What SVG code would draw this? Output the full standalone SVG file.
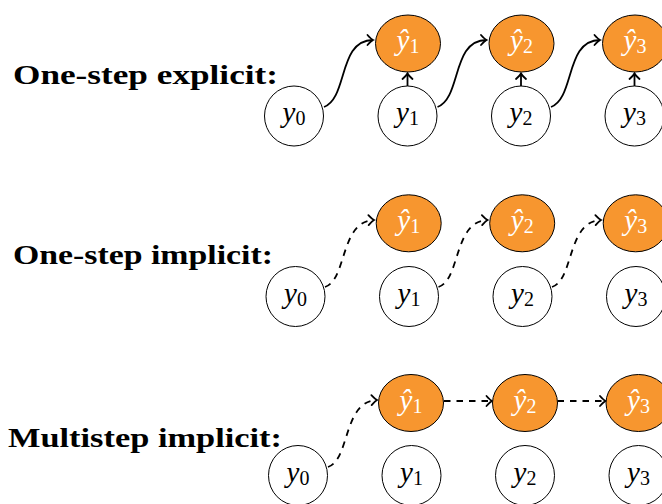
<svg xmlns="http://www.w3.org/2000/svg" width="662" height="504" viewBox="0 0 662 504">
<defs>
<style>
.lbl{font-family:"Liberation Serif","DejaVu Serif",serif;font-weight:bold;font-size:28px;fill:#000}
.y{fill:#fff;stroke:#000;stroke-width:1}
.yh{fill:#F7962F;stroke:#000;stroke-width:1}
.t{font-family:"Liberation Serif","DejaVu Serif",serif;font-size:29px;font-style:italic;text-anchor:middle;fill:#000}
.th{fill:#fff}
.sub{font-style:normal;font-size:20px;baseline-shift:-3px}
.c{fill:none;stroke:#000;stroke-width:1.8}
.d{stroke-dasharray:6.5 6}
</style>
<marker id="ah" viewBox="-7 -7 11 14" markerWidth="11" markerHeight="14" refX="0" refY="0" orient="auto" markerUnits="userSpaceOnUse">
<path d="M-5.5,-5 Q-2,-1 0,0 Q-2,1 -5.5,5" fill="none" stroke="#000" stroke-width="1.8" stroke-linecap="round"/>
</marker>
</defs>
<rect width="662" height="504" fill="#fff"/>
<text class="lbl" x="13" y="84" textLength="265" lengthAdjust="spacingAndGlyphs">One-step explicit:</text>
<text class="lbl" x="13" y="264" textLength="260" lengthAdjust="spacingAndGlyphs">One-step implicit:</text>
<text class="lbl" x="8" y="447" textLength="274" lengthAdjust="spacingAndGlyphs">Multistep implicit:</text>

<g id="connectors">
<path class="c" marker-end="url(#ah)" d="M324,107 C348,98 338,40 373,40"/>
<path class="c" marker-end="url(#ah)" d="M437.5,107 C461.5,98 451.5,40 486.5,40"/>
<path class="c" marker-end="url(#ah)" d="M551,107 C575,98 565,40 600,40"/>
<path class="c" marker-end="url(#ah)" d="M407.5,86 L407.5,73.5"/>
<path class="c" marker-end="url(#ah)" d="M521,86 L521,73.5"/>
<path class="c" marker-end="url(#ah)" d="M634.5,86 L634.5,73.5"/>
<path class="c d" marker-end="url(#ah)" d="M325,287 C347,280 340,221 374,220"/>
<path class="c d" marker-end="url(#ah)" d="M438.5,287 C460.5,280 453.5,221 487.5,220"/>
<path class="c d" marker-end="url(#ah)" d="M552,287 C574,280 567,221 601,220"/>
<path class="c d" marker-end="url(#ah)" d="M328,467 C350,460 343,401 377,400"/>
<path class="c d" marker-end="url(#ah)" d="M444,401 L492,401"/>
<path class="c d" marker-end="url(#ah)" d="M557.5,401 L605.5,401"/>
</g>

<g id="r1-y0"><ellipse class="y" cx="294" cy="116" rx="29.5" ry="30"/><text class="t" x="294" y="122">y<tspan class="sub">0</tspan></text></g>
<g id="r1-y1"><ellipse class="y" cx="407.5" cy="116" rx="29.5" ry="30"/><text class="t" x="407.5" y="122">y<tspan class="sub">1</tspan></text></g>
<g id="r1-y2"><ellipse class="y" cx="521" cy="116" rx="29.5" ry="30"/><text class="t" x="521" y="122">y<tspan class="sub">2</tspan></text></g>
<g id="r1-y3"><ellipse class="y" cx="634.5" cy="116" rx="29.5" ry="30"/><text class="t" x="634.5" y="122">y<tspan class="sub">3</tspan></text></g>
<g id="r1-yh1"><ellipse class="yh" cx="408" cy="43.5" rx="32.5" ry="28.5"/><text class="t th" x="408" y="50">ŷ<tspan class="sub">1</tspan></text></g>
<g id="r1-yh2"><ellipse class="yh" cx="521.5" cy="43.5" rx="32.5" ry="28.5"/><text class="t th" x="521.5" y="50">ŷ<tspan class="sub">2</tspan></text></g>
<g id="r1-yh3"><ellipse class="yh" cx="635" cy="43.5" rx="32.5" ry="28.5"/><text class="t th" x="635" y="50">ŷ<tspan class="sub">3</tspan></text></g>

<g id="r2-y0"><ellipse class="y" cx="295.5" cy="296.5" rx="29.5" ry="30"/><text class="t" x="295.5" y="302.5">y<tspan class="sub">0</tspan></text></g>
<g id="r2-y1"><ellipse class="y" cx="409" cy="296.5" rx="29.5" ry="30"/><text class="t" x="409" y="302.5">y<tspan class="sub">1</tspan></text></g>
<g id="r2-y2"><ellipse class="y" cx="522.5" cy="296.5" rx="29.5" ry="30"/><text class="t" x="522.5" y="302.5">y<tspan class="sub">2</tspan></text></g>
<g id="r2-y3"><ellipse class="y" cx="636" cy="296.5" rx="29.5" ry="30"/><text class="t" x="636" y="302.5">y<tspan class="sub">3</tspan></text></g>
<g id="r2-yh1"><ellipse class="yh" cx="408.7" cy="223.3" rx="32.5" ry="28.5"/><text class="t th" x="408.7" y="229.8">ŷ<tspan class="sub">1</tspan></text></g>
<g id="r2-yh2"><ellipse class="yh" cx="522.2" cy="223.3" rx="32.5" ry="28.5"/><text class="t th" x="522.2" y="229.8">ŷ<tspan class="sub">2</tspan></text></g>
<g id="r2-yh3"><ellipse class="yh" cx="635.7" cy="223.3" rx="32.5" ry="28.5"/><text class="t th" x="635.7" y="229.8">ŷ<tspan class="sub">3</tspan></text></g>

<g id="r3-y0"><ellipse class="y" cx="298" cy="475.5" rx="29.5" ry="30"/><text class="t" x="298" y="481.5">y<tspan class="sub">0</tspan></text></g>
<g id="r3-y1"><ellipse class="y" cx="411.5" cy="475.5" rx="29.5" ry="30"/><text class="t" x="411.5" y="481.5">y<tspan class="sub">1</tspan></text></g>
<g id="r3-y2"><ellipse class="y" cx="525" cy="475.5" rx="29.5" ry="30"/><text class="t" x="525" y="481.5">y<tspan class="sub">2</tspan></text></g>
<g id="r3-y3"><ellipse class="y" cx="638.5" cy="475.5" rx="29.5" ry="30"/><text class="t" x="638.5" y="481.5">y<tspan class="sub">3</tspan></text></g>
<g id="r3-yh1"><ellipse class="yh" cx="411" cy="403" rx="32.5" ry="28.5"/><text class="t th" x="411" y="409.5">ŷ<tspan class="sub">1</tspan></text></g>
<g id="r3-yh2"><ellipse class="yh" cx="525" cy="403" rx="32.5" ry="28.5"/><text class="t th" x="525" y="409.5">ŷ<tspan class="sub">2</tspan></text></g>
<g id="r3-yh3"><ellipse class="yh" cx="638.5" cy="403" rx="32.5" ry="28.5"/><text class="t th" x="638.5" y="409.5">ŷ<tspan class="sub">3</tspan></text></g>
</svg>
